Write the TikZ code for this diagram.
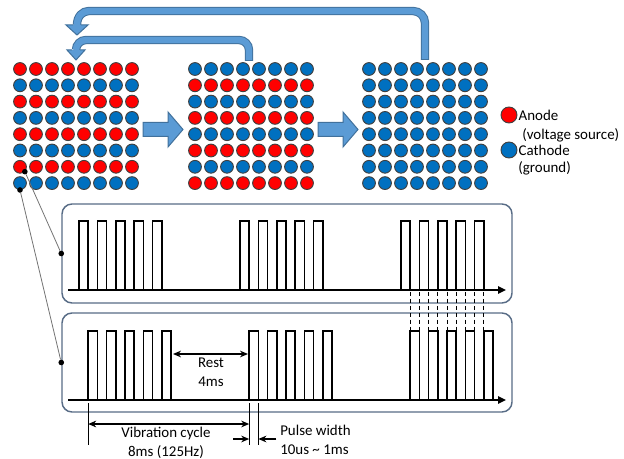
\documentclass[tikz,border=0pt]{standalone}
\usepackage{fontspec}
\setmainfont{Carlito}
\usetikzlibrary{arrows.meta,positioning,calc}
\definecolor{ledred}{RGB}{255,0,0}
\definecolor{ledblue}{RGB}{0,112,192}
\definecolor{arrfill}{RGB}{91,155,213}
\definecolor{arrline}{RGB}{65,113,156}
\definecolor{panelline}{RGB}{88,108,134}
\tikzset{
  led/.style={circle, draw=black!75, line width=0.7pt, inner sep=0pt, minimum size=9.6pt},
  keyled/.style={circle, draw=black!75, line width=0.7pt, inner sep=0pt, minimum size=12pt},
  blockarr/.style={fill=arrfill, draw=arrline, line width=0.75pt, line join=miter},
  bentarr/.style={draw=arrline, double=arrfill, double distance=4.8pt, line width=0.75pt},
  headln/.style={draw=arrline, line width=0.75pt, line join=miter},
  panelbox/.style={draw=panelline, line width=1.1pt, rounded corners=7.5pt, inner sep=0pt,
    minimum width=337.5pt, minimum height=74.25pt},
  baseln/.style={-{Triangle[length=6pt,width=5.5pt]}, line width=2pt},
  pulseln/.style={line width=1.1pt, line join=miter},
  syncln/.style={dash pattern=on 3pt off 2.2pt, line width=0.75pt},
  wireln/.style={black!55, line width=0.6pt},
  jdot/.style={circle, fill=black, inner sep=0pt, minimum size=4.2pt},
  extln/.style={line width=0.6pt},
  dimarr/.style={{Stealth[length=6pt,width=5pt]}-{Stealth[length=6pt,width=5pt]}, line width=1.6pt},
  dimtip/.style={-{Stealth[length=6pt,width=5pt]}, line width=1pt},
  lbl/.style={font=\fontsize{11.2}{14.2}\selectfont, inner sep=0pt},
}
% one row of pulses per group: #1 base y, #2 top y, #3 shift
\newcommand{\pulsetrain}[3]{%
  \foreach \g in {0,1,2}{
    \foreach \k in {0,...,4}{
      \draw[pulseln] ({79+#3+161*\g+18.4*\k},#1) |- ({88.2+#3+161*\g+18.4*\k},#2)
        -- ({88.2+#3+161*\g+18.4*\k},#1);
    }
  }
}
\begin{document}
\begin{tikzpicture}[x=0.75pt, y=-0.75pt]
  \useasboundingbox (0,0) rectangle (624,459);

  % electrode grids
  \foreach \r in {1,...,8}{
    \ifodd\r \def\ca{ledred}\def\cb{ledblue}\else \def\ca{ledblue}\def\cb{ledred}\fi
    \foreach \c in {1,...,8}{
      \node[led, fill=\ca] (ga-\r-\c) at ({20+16*(\c-1)},{69+16.3*(\r-1)}) {};
      \node[led, fill=\cb] (gb-\r-\c) at ({195+16*(\c-1)},{69+16.3*(\r-1)}) {};
      \node[led, fill=ledblue] (gc-\r-\c) at ({369+16*(\c-1)},{69+16.3*(\r-1)}) {};
    }
  }

  % step arrows
  \draw[blockarr] (143,122.5) -- (168,122.5) -- (168,112) -- (183,129.5)
    -- (168,147) -- (168,136.5) -- (143,136.5) -- cycle;
  \draw[blockarr] (318,122.5) -- (343,122.5) -- (343,112) -- (358,129.5)
    -- (343,147) -- (343,136.5) -- (318,136.5) -- cycle;

  % loop-back arrows
  \draw[bentarr] (249,61) -- (249,50) .. controls (249,44.5) and (244.5,40) .. (239,40)
    -- (86,40) .. controls (80.5,40) and (76,44.5) .. (76,50);
  \fill[arrfill] (67,50) -- (76,60) -- (85,50) -- cycle;
  \draw[headln] (71.8,50) -- (67,50) -- (76,60) -- (85,50) -- (80.2,50);
  \draw[headln] (244.8,61) -- (253.2,61);

  \draw[bentarr] (425,60) -- (425,23) .. controls (425,16.4) and (419.6,11) .. (413,11)
    -- (89,11) .. controls (82.4,11) and (77,16.4) .. (77,25);
  \fill[arrfill] (66,25) -- (77,35) -- (88,25) -- cycle;
  \draw[headln] (72.8,25) -- (66,25) -- (77,35) -- (88,25) -- (81.2,25);
  \draw[headln] (420.8,60) -- (429.2,60);

  % legend
  \node[keyled, fill=ledred] (keyred) at (509,115) {};
  \node[keyled, fill=ledblue] (keyblue) at (509,150) {};
  \node[lbl, right=0.75pt of keyred] (anodetxt) {Anode};
  \node[lbl, anchor=west] (anodesub) at (522,135) {(voltage source)};
  \node[lbl, right=0.75pt of keyblue] (cathtxt) {Cathode};
  \node[lbl, anchor=west] (cathsub) at (518,168.5) {(ground)};

  % signal panels
  \node[panelbox] (panA) at (287,253.5) {};
  \node[panelbox] (panB) at (287,362.5) {};
  \draw[baseln] (68,290) -- (506,290);
  \draw[baseln] (68,400) -- (506,400);
  \pulsetrain{290}{221}{0}
  \pulsetrain{400}{331}{9.2}
  \foreach \k in {0,...,8}
    \draw[syncln] ({410.2+9.2*\k},292) -- ({410.2+9.2*\k},331);

  % taps from the grid to the panels
  \node[jdot] (tapA) at (ga-7-1.south east) {};
  \node[jdot] (tapB) at (ga-8-1.south) {};
  \node[jdot] (pinA) at (panA.west) {};
  \node[jdot] (pinB) at (panB.west) {};
  \draw[wireln] (tapA) -- (pinA);
  \draw[wireln] (tapB) -- (pinB);

  % timing marks
  \coordinate (restL) at (173,354);
  \coordinate (restR) at (248,354);
  \draw[dimarr] (restL) -- (restR);
  \node[lbl, align=center] (resttxt) at (211,372) {Rest\\4ms};

  \coordinate (cycA) at (88.2,403);
  \coordinate (cycB) at (249.2,403);
  \coordinate (pwB) at (258.4,403);
  \foreach \p in {cycA,cycB,pwB}
    \draw[extln] (\p) -- ++(0,42);
  \draw[dimarr] ($(cycA)+(0,21)$) -- ($(cycB)+(0,21)$);
  \node[lbl, align=center] (cyctxt) at (166,442.5) {Vibration cycle\\8ms (125Hz)};
  \draw[dimtip] ($(cycB)+(-16,36)$) -- ($(cycB)+(0,36)$);
  \draw[dimtip] ($(pwB)+(18,36)$) -- ($(pwB)+(0,36)$);
  \node[lbl, align=left, anchor=west] (pwtxt) at (280,440) {Pulse width\\10us \textasciitilde{} 1ms};
\end{tikzpicture}
\end{document}
